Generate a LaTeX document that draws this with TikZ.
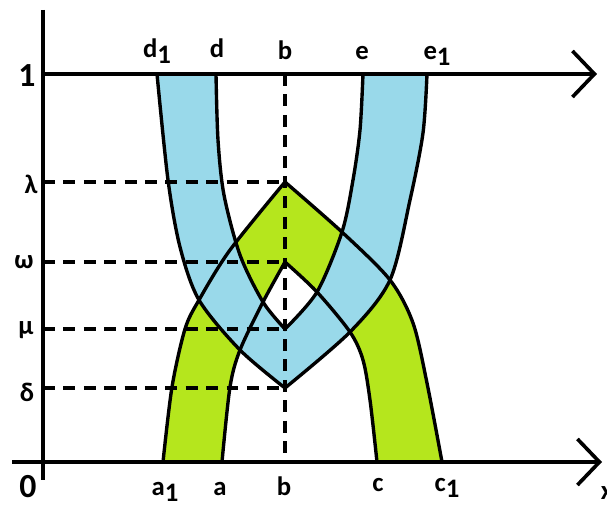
\documentclass[tikz,border=0pt]{standalone}
\usepackage{fontspec}
\setmainfont{Carlito}
\usepackage{xcolor}
\usepackage{tikz}
\usetikzlibrary{arrows.meta}

\definecolor{bandblue}{RGB}{153,217,234}
\definecolor{bandgreen}{RGB}{181,230,29}
\newcommand{\lowidx}[1]{\raisebox{-0.45ex}{#1}}

% Bien cua hai dai mau (dung cho ca to va ve vien)
\newcommand{\greenband}{plot[smooth] coordinates {(a1) (172,387) (185,329) (199,300) (230,250) (L)}
  -- plot[smooth] coordinates {(L) (343,233) (390,280) (413,323) (427,383) (c1)}
  -- (c) -- plot[smooth] coordinates {(c) (370,400) (363,360) (350,332) (317,292) (W)}
  -- plot[smooth] coordinates {(W) (263,302) (240,350) (230,387) (a)} -- cycle}
\newcommand{\blueband}{plot[smooth] coordinates {(d1) (168,180) (180,247) (199,300) (240,350) (D)}
  -- plot[smooth] coordinates {(D) (350,332) (390,280) (410,200) (423,133) (e1)}
  -- (e) -- plot[smooth] coordinates {(e) (360,130) (353,180) (342,232) (317,292) (M)}
  -- plot[smooth] coordinates {(M) (263,302) (240,255) (224,195) (218,140) (d)} -- cycle}

\begin{document}
\begin{tikzpicture}[x=0.025cm, y=-0.025cm,
    edge/.style={line width=2.4pt, line join=miter},
    axis/.style={line width=2.6pt},
    guide/.style={line width=2.5pt, dash pattern=on 8.5pt off 6pt},
    toplbl/.style={font=\fontsize{19}{22}\selectfont\bfseries, anchor=base, inner sep=0pt},
    lvl/.style={font=\fontsize{19}{22}\selectfont\bfseries, inner sep=0pt},
    digit/.style={font=\fontsize{24}{26}\selectfont\bfseries, inner sep=0pt}]
        \useasboundingbox (0,0) rectangle (607,510);

        % Cac diem tren hai truc
        \coordinate (O) at (43,462);
        \coordinate (d1) at (157,74);
        \coordinate (d) at (216,74);
        \coordinate (bt) at (285,74);
        \coordinate (e) at (363,74);
        \coordinate (e1) at (427,74);
        \coordinate (a1) at (163,462);
        \coordinate (a) at (222,462);
        \coordinate (bb) at (285,462);
        \coordinate (c) at (377,462);
        \coordinate (c1) at (442,462);

        % Cac dinh tren duong x = b
        \coordinate (L) at (285,182);
        \coordinate (W) at (285,262);
        \coordinate (M) at (285,329);
        \coordinate (D) at (285,388);

        % To hai dai (xanh la truoc, xanh duong de len)
        \fill[bandgreen] \greenband;
        \fill[bandblue] \blueband;

        % Cac duong gach ngang va duong gach doc qua b
        \foreach \p in {L,W,M,D}
            \draw[guide] (O |- \p) -- (\p);
        \draw[guide] (bt) -- (bb);

        % Vien cua hai dai
        \draw[edge] \greenband;
        \draw[edge] \blueband;

        % Truc doc va hai truc ngang co mui ten
        \draw[axis] (43,10) -- (43,480);
        \draw[axis, -{Straight Barb[length=5.5mm, width=11.5mm]}] (43,74) -- (597,74);
        \draw[axis, -{Straight Barb[length=5.5mm, width=11.5mm]}] (12,462) -- (602,462);

        % Nhan muc 0 va 1
        \node[digit] at (27,76) {1};
        \node[digit] at (28,487) {0};

        % Nhan cac muc lambda, omega, mu, delta
        \node[lvl] at (31,184) {λ};
        \node[lvl] at (24,262) {ω};
        \node[lvl] at (26,330) {μ};
        \node[lvl] at (27,392) {δ};

        % Nhan tren truc 1
        \node[toplbl] at (157,58) {d\lowidx{1}};
        \node[toplbl] at (217,58) {d};
        \node[toplbl] at (285,60) {b};
        \node[toplbl] at (362,60) {e};
        \node[toplbl] at (437,60) {e\lowidx{1}};

        % Nhan tren truc 0
        \node[toplbl] at (165,496) {a\lowidx{1}};
        \node[toplbl] at (220,496) {a};
        \node[toplbl] at (284,496) {b};
        \node[toplbl] at (378,492) {c};
        \node[toplbl] at (447,492) {c\lowidx{1}};
        \node[toplbl] at (607,500) {x};

    \end{tikzpicture}
\end{document}
